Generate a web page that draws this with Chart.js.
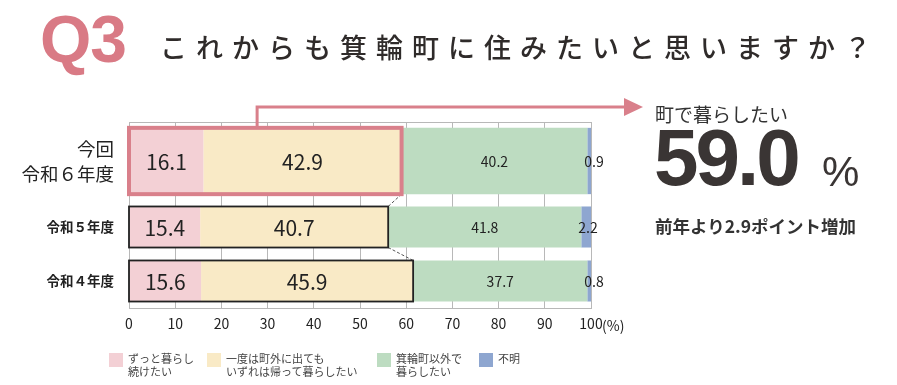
<!DOCTYPE html>
<html lang="ja">
<head>
<meta charset="utf-8">
<script src="https://cdn.jsdelivr.net/npm/chart.js@4/dist/chart.umd.min.js"></script>
<style>
  html, body { margin: 0; padding: 0; background: #fff; }
  body { width: 897px; height: 385px; position: relative; overflow: hidden; font-family: "Noto Sans CJK JP", sans-serif; color: #333; }
  #chart { position: absolute; left: 0; top: 0; }
  .abs { position: absolute; white-space: nowrap; }
  #q { left: 40px; top: 1px; font: bold 66px "Liberation Sans", Arial, sans-serif; color: #d97a85; letter-spacing: -1px; }
  #title { left: 160px; top: 27px; font-size: 27px; font-weight: 500; letter-spacing: 9px; color: #2f2b2a; }
  #lead { left: 655px; top: 100px; font-size: 19px; color: #333; }
  #big { left: 654px; top: 112px; font: bold 80px "Liberation Sans", Arial, sans-serif; color: #3a3534; letter-spacing: -3px; }
  #pct { left: 822px; top: 148px; font: 42px "Liberation Sans", Arial, sans-serif; color: #3a3534; }
  #note { left: 655px; top: 213px; font-size: 17.5px; font-weight: 700; color: #333; }
  #unit { left: 602px; top: 315px; font-size: 14px; color: #222; }
  .lg { position: absolute; top: 352px; display: flex; align-items: flex-start; font-size: 11px; line-height: 13px; color: #444; }
  .lg i { display: inline-block; width: 14px; height: 14px; margin-right: 5px; margin-top: 1px; }
</style>
</head>
<body>
<canvas id="chart" width="897" height="385"></canvas>
<div class="abs" id="q">Q3</div>
<div class="abs" id="title">これからも箕輪町に住みたいと思いますか？</div>
<div class="abs" id="lead">町で暮らしたい</div>
<div class="abs" id="big">59.0</div>
<div class="abs" id="pct">%</div>
<div class="abs" id="note">前年より2.9ポイント増加</div>
<div class="abs" id="unit">(%)</div>
<div id="legend"></div>
<script>
// rows: current survey first, then the two previous years
const rowLabels = [['今回', '令和６年度'], '令和５年度', '令和４年度'];
const seriesNames = ['ずっと暮らし\n続けたい', '一度は町外に出ても\nいずれは帰って暮らしたい', '箕輪町以外で\n暮らしたい', '不明'];
const stayValues = [16.1, 15.4, 15.6];
const returnValues = [42.9, 40.7, 45.9];
const elsewhereValues = [40.2, 41.8, 37.7];
const unknownValues = [0.9, 2.2, 0.8];
const xTicks = [0, 10, 20, 30, 40, 50, 60, 70, 80, 90, 100];

const seriesValues = [stayValues, returnValues, elsewhereValues, unknownValues];
const colors = ['#f3d0d5', '#f9eac6', '#bddcc1', '#8ea6d0'];
const labelFonts = [21, 21, 14, 14];

const datasets = [];
seriesValues.forEach((vals, s) => {
  datasets.push({
    label: seriesNames[s], data: vals.slice(0, 1), yAxisID: 'yNow', stack: 'row',
    backgroundColor: colors[s], borderWidth: 0, grouped: false,
    categoryPercentage: 1, barPercentage: 0.85, _series: s
  });
});
seriesValues.forEach((vals, s) => {
  datasets.push({
    label: seriesNames[s], data: vals.slice(1), yAxisID: 'yPrev', stack: 'row',
    backgroundColor: colors[s], borderWidth: 0, grouped: false,
    categoryPercentage: 1, barPercentage: 0.76, _series: s
  });
});

// legend in HTML
const legendX = [109, 207, 377, 479];
document.getElementById('legend').innerHTML = seriesNames.map((n, i) =>
  `<div class="lg" style="left:${legendX[i]}px"><i style="background:${colors[i]}"></i><span>${n.replace('\n', '<br>')}</span></div>`
).join('');

const valueLabels = {
  id: 'valueLabels',
  afterDatasetsDraw(chart) {
    const {ctx} = chart;
    ctx.save();
    ctx.fillStyle = '#222';
    ctx.textBaseline = 'middle';
    chart.data.datasets.forEach((ds, di) => {
      const meta = chart.getDatasetMeta(di);
      const s = ds._series;
      meta.data.forEach((bar, i) => {
        const v = ds.data[i];
        ctx.font = `${labelFonts[s]}px "Noto Sans CJK JP", sans-serif`;
        if (s === 3) {
          ctx.textAlign = 'left';
          ctx.fillText(v.toFixed(1), bar.base - 3, bar.y + 1);
        } else {
          ctx.textAlign = 'center';
          ctx.fillText(v.toFixed(1), (bar.base + bar.x) / 2, bar.y + 1);
        }
      });
    });
    ctx.restore();
  }
};

// boxes round "want to live in town" (series 0 + 1), connectors and arrow
const townBoxes = {
  id: 'townBoxes',
  afterDatasetsDraw(chart) {
    const {ctx} = chart;
    const x = chart.scales.x;
    const boxes = [];
    for (let r = 0; r < rowLabels.length; r++) {
      const dsIndex = r === 0 ? 1 : 5;
      const bar = chart.getDatasetMeta(dsIndex).data[r === 0 ? 0 : r - 1];
      const total = stayValues[r] + returnValues[r];
      boxes.push({
        left: x.getPixelForValue(0), right: x.getPixelForValue(total),
        top: bar.y - bar.height / 2, bottom: bar.y + bar.height / 2
      });
    }
    ctx.save();
    // connectors
    ctx.strokeStyle = '#555';
    ctx.lineWidth = 1;
    ctx.setLineDash([3, 2]);
    for (let r = 0; r < boxes.length - 1; r++) {
      ctx.beginPath();
      ctx.moveTo(boxes[r].right, boxes[r].bottom);
      ctx.lineTo(boxes[r + 1].right, boxes[r + 1].top);
      ctx.stroke();
    }
    ctx.setLineDash([]);
    // previous years
    ctx.strokeStyle = '#222';
    ctx.lineWidth = 1.8;
    boxes.slice(1).forEach(b => ctx.strokeRect(b.left, b.top, b.right - b.left, b.bottom - b.top));
    // current year
    const b = boxes[0];
    ctx.strokeStyle = '#d9808b';
    ctx.lineWidth = 4;
    ctx.strokeRect(b.left, b.top, b.right - b.left, b.bottom - b.top);
    // arrow
    const ax = b.left + (b.right - b.left) * 0.47;
    const ay = 107;
    ctx.lineWidth = 3;
    ctx.beginPath();
    ctx.moveTo(ax, b.top - 1);
    ctx.lineTo(ax, ay);
    ctx.lineTo(626, ay);
    ctx.stroke();
    ctx.fillStyle = '#d9808b';
    ctx.beginPath();
    ctx.moveTo(624, 98);
    ctx.lineTo(643, ay);
    ctx.lineTo(624, 116);
    ctx.closePath();
    ctx.fill();
    ctx.restore();
  }
};

new Chart(document.getElementById('chart'), {
  type: 'bar',
  data: { labels: rowLabels, datasets },
  options: {
    indexAxis: 'y',
    responsive: false,
    animation: false,
    layout: { padding: { top: 122, right: 306, left: 0, bottom: 0 } },
    plugins: { legend: { display: false }, tooltip: { enabled: false } },
    scales: {
      x: {
        stacked: true, min: 0, max: 100,
        afterBuildTicks: s => { s.ticks = xTicks.map(v => ({value: v})); },
        afterFit: s => { s.height = 77; },
        grid: { color: '#b8b8b8', lineWidth: 1, drawTicks: false },
        border: { display: true, color: '#b8b8b8' },
        ticks: { color: '#222', padding: 7, font: { size: 14, family: '"Noto Sans CJK JP", sans-serif' } }
      },
      xTop: {
        position: 'top', axis: 'x', min: 0, max: 100,
        afterFit: s => { s.height = 0; },
        grid: { display: false },
        border: { display: true, color: '#b8b8b8' },
        ticks: { display: false }
      },
      // left boxes are laid out in reverse order, so the lower block comes first
      yPrev: {
        type: 'category', labels: rowLabels.slice(1), position: 'left', stacked: true,
        stack: 'rows', stackWeight: 108, offset: true,
        afterFit: s => { s.width = 129; },
        grid: { display: false }, border: { display: false },
        ticks: { color: '#222', padding: 7, font: { size: 13.5, weight: 'bold', family: '"Noto Sans CJK JP", sans-serif' } }
      },
      yNow: {
        type: 'category', labels: rowLabels.slice(0, 1), position: 'left', stacked: true,
        stack: 'rows', stackWeight: 78, offset: true,
        afterFit: s => { s.width = 129; },
        grid: { display: false }, border: { display: false },
        ticks: { color: '#222', padding: 7, font: { size: 18.5, family: '"Noto Sans CJK JP", sans-serif', lineHeight: 1.35 } }
      }
    }
  },
  plugins: [valueLabels, townBoxes]
});
</script>
</body>
</html>
